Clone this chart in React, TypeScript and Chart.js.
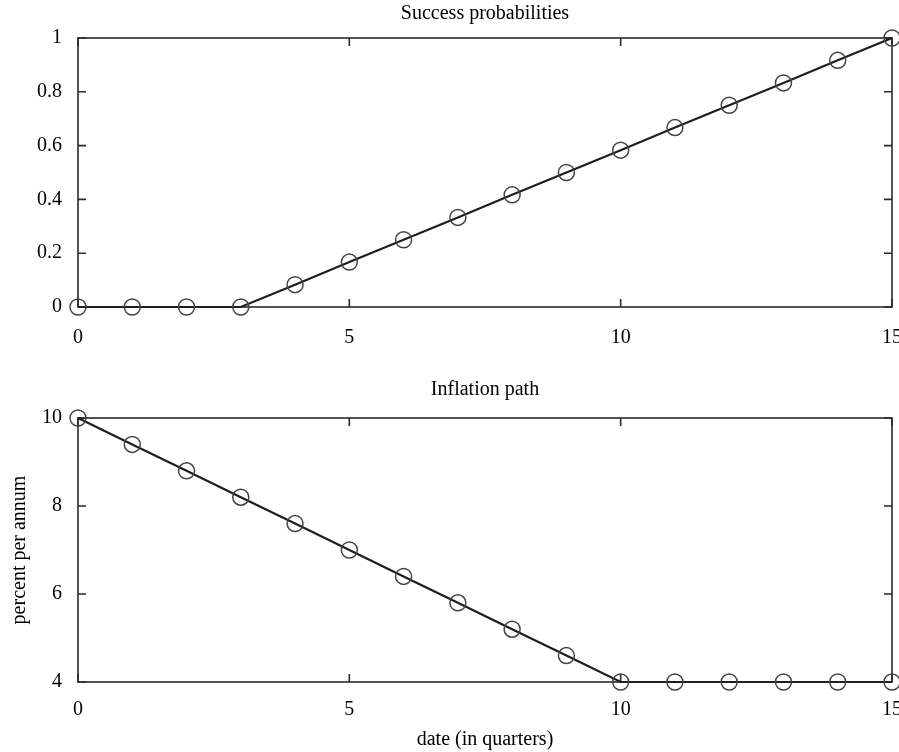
import React, { useEffect, useRef } from "react";
import { Chart, registerables } from "chart.js";

Chart.register(...registerables);

const quarters = [0, 1, 2, 3, 4, 5, 6, 7, 8, 9, 10, 11, 12, 13, 14, 15];
const successProb = [0, 0, 0, 0, 0.083, 0.167, 0.25, 0.333, 0.417, 0.5, 0.583, 0.667, 0.75, 0.833, 0.917, 1];
const inflation = [10, 9.4, 8.8, 8.2, 7.6, 7.0, 6.4, 5.8, 5.2, 4.6, 4, 4, 4, 4, 4, 4];
const xTicks = [0, 5, 10, 15];
const successTicks = [0, 0.2, 0.4, 0.6, 0.8, 1];
const inflationTicks = [4, 6, 8, 10];

const FONT = "'Liberation Serif', 'DejaVu Serif', serif";

const framePlugin = {
  id: "frame",
  beforeDatasetsDraw(chart: any) {
    const { ctx, chartArea, scales } = chart;
    const { left, right, top, bottom } = chartArea;
    const L = 8;
    ctx.save();
    ctx.strokeStyle = "#2a2a2a";
    ctx.lineWidth = 1.6;
    ctx.strokeRect(left, top, right - left, bottom - top);
    ctx.beginPath();
    scales.x.ticks.forEach((t: any) => {
      const px = scales.x.getPixelForValue(t.value);
      ctx.moveTo(px, bottom);
      ctx.lineTo(px, bottom - L);
      ctx.moveTo(px, top);
      ctx.lineTo(px, top + L);
    });
    scales.y.ticks.forEach((t: any) => {
      const py = scales.y.getPixelForValue(t.value);
      ctx.moveTo(left, py);
      ctx.lineTo(left + L, py);
      ctx.moveTo(right, py);
      ctx.lineTo(right - L, py);
    });
    ctx.stroke();
    ctx.restore();
  },
};

function makeConfig(opts: {
  values: number[];
  yMin: number;
  yMax: number;
  yTicks: number[];
  title: string;
  titlePad: { top: number; bottom: number };
  xHeight: number;
  xTickPad: number;
  xTitle?: string;
  yTitle?: string;
}) {
  return {
    type: "line" as const,
    data: {
      labels: quarters,
      datasets: [
        {
          data: quarters.map((q, i) => ({ x: q, y: opts.values[i] })),
          borderColor: "#1e1e1e",
          borderWidth: 2.2,
          pointStyle: "circle",
          pointRadius: 8,
          pointBorderWidth: 1.5,
          pointBorderColor: "#444",
          pointBackgroundColor: "rgba(0,0,0,0)",
          fill: false,
          tension: 0,
          clip: false as any,
        },
      ],
    },
    options: {
      animation: false as const,
      responsive: false,
      devicePixelRatio: 1,
      layout: { autoPadding: false, padding: { left: 0, right: 7, top: 0, bottom: 0 } },
      plugins: {
        legend: { display: false },
        tooltip: { enabled: false },
        title: {
          display: true,
          fullSize: false,
          text: opts.title,
          color: "#000",
          font: { family: FONT, size: 20, weight: "normal" as const, lineHeight: 1.2 },
          padding: opts.titlePad,
        },
      },
      scales: {
        x: {
          type: "linear" as const,
          min: 0,
          max: 15,
          grid: { display: false, drawTicks: false },
          border: { display: false },
          afterBuildTicks: (s: any) => {
            s.ticks = xTicks.map((v) => ({ value: v }));
          },
          afterFit: (s: any) => {
            s.height = opts.xHeight;
            s.paddingLeft = 0;
            s.paddingRight = 0;
          },
          ticks: {
            color: "#000",
            padding: opts.xTickPad,
            maxRotation: 0,
            font: { family: FONT, size: 20, lineHeight: 1.2 },
            callback: (v: any) => String(+Number(v).toFixed(2)),
          },
          title: opts.xTitle
            ? {
                display: true,
                text: opts.xTitle,
                color: "#000",
                font: { family: FONT, size: 20, lineHeight: 1.2 },
                padding: { top: 0, bottom: 0 },
              }
            : { display: false },
        },
        y: {
          type: "linear" as const,
          min: opts.yMin,
          max: opts.yMax,
          grid: { display: false, drawTicks: false },
          border: { display: false },
          afterBuildTicks: (s: any) => {
            s.ticks = opts.yTicks.map((v) => ({ value: v }));
          },
          afterFit: (s: any) => {
            s.width = 78;
            s.paddingTop = 0;
            s.paddingBottom = 0;
          },
          ticks: {
            color: "#000",
            padding: 16,
            font: { family: FONT, size: 20, lineHeight: 1.2 },
            callback: (v: any) => String(+Number(v).toFixed(2)),
          },
          title: opts.yTitle
            ? {
                display: true,
                text: opts.yTitle,
                color: "#000",
                font: { family: FONT, size: 20, lineHeight: 1.2 },
                padding: { top: 8, bottom: 0 },
              }
            : { display: false },
        },
      },
    },
    plugins: [framePlugin],
  };
}

export default function App() {
  const topRef = useRef<HTMLCanvasElement | null>(null);
  const botRef = useRef<HTMLCanvasElement | null>(null);

  useEffect(() => {
    const c1 = new Chart(
      topRef.current as HTMLCanvasElement,
      makeConfig({
        values: successProb,
        yMin: 0,
        yMax: 1,
        yTicks: successTicks,
        title: "Success probabilities",
        titlePad: { top: 2, bottom: 12 },
        xHeight: 53,
        xTickPad: 19,
      }) as any
    );
    const c2 = new Chart(
      botRef.current as HTMLCanvasElement,
      makeConfig({
        values: inflation,
        yMin: 4,
        yMax: 10,
        yTicks: inflationTicks,
        title: "Inflation path",
        titlePad: { top: 8, bottom: 16 },
        xHeight: 70,
        xTickPad: 16,
        xTitle: "date (in quarters)",
        yTitle: "percent per annum",
      }) as any
    );
    return () => {
      c1.destroy();
      c2.destroy();
    };
  }, []);

  return (
    <div style={{ position: "absolute", left: 0, top: 0, width: 899, height: 752, background: "#fff" }}>
      <canvas
        ref={topRef}
        width={899}
        height={360}
        style={{ position: "absolute", left: 0, top: 0, width: 899, height: 360 }}
      />
      <canvas
        ref={botRef}
        width={899}
        height={382}
        style={{ position: "absolute", left: 0, top: 370, width: 899, height: 382 }}
      />
    </div>
  );
}
